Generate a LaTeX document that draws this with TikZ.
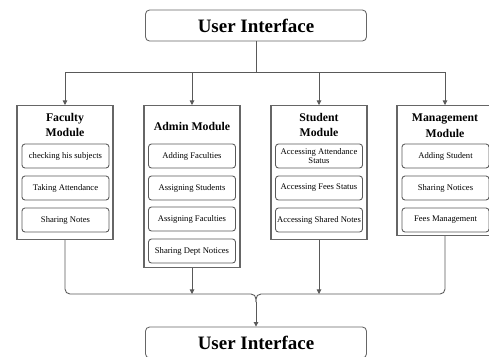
\documentclass[tikz,border=0pt]{standalone}
\usepackage{fontspec}
\setmainfont{Liberation Serif}
\usetikzlibrary{arrows.meta}

\begin{document}
\begin{tikzpicture}[x=0.02cm,y=-0.02cm,line width=0.5pt,
    ui/.style={draw=black!60,rounded corners=2.3pt,minimum width=4.42cm,minimum height=0.62cm,font=\fontsize{10.8}{12}\selectfont\bfseries},
    module/.style={draw=black!60,line width=0.6pt,anchor=north,minimum width=1.92cm},
    title/.style={align=center,font=\fontsize{6.7}{9}\selectfont\bfseries},
    item/.style={draw=black!65,rounded corners=1.7pt,minimum width=1.74cm,minimum height=0.48cm,align=center,inner xsep=0.5pt,inner ysep=1pt,font=\fontsize{4.9}{5.6}\selectfont},
    link/.style={draw=black!65},
    arr/.style={link,-{Triangle[length=2.6pt,width=2.6pt]}}]
    \useasboundingbox (0,0) rectangle (489,356);

    \node[ui] (ui) at (256,25.5) {User Interface};
    \node[ui] (ui2) at (256,342.5) {User Interface};

    \node[module,minimum height=2.68cm] (fac) at (65,105) {};
    \node[module,minimum height=3.24cm] (adm) at (192,105) {};
    \node[module,minimum height=2.68cm] (stu) at (319,105) {};
    \node[module,minimum height=2.60cm] (man) at (445,105) {};

    \node[title] (factitle) at (65,125) {Faculty\\Module};
    \node[title] (admtitle) at (192,126) {Admin Module};
    \node[title] (stutitle) at (319,125) {Student\\Module};
    \node[title] (mantitle) at (445,126) {Management\\Module};

    \node[item] (fac1) at (65.5,156) {checking his subjects};
    \node[item] (fac2) at (65.5,188) {Taking Attendance};
    \node[item] (fac3) at (65.5,220) {Sharing Notes};

    \node[item] (adm1) at (192,156) {Adding Faculties};
    \node[item] (adm2) at (192,188) {Assigning Students};
    \node[item] (adm3) at (192,219) {Assigning Faculties};
    \node[item] (adm4) at (192,251) {Sharing Dept Notices};

    \node[item] (stu1) at (319,156) {Accessing Attendance\\Status};
    \node[item] (stu2) at (319,188) {Accessing Fees Status};
    \node[item] (stu3) at (319,220) {Accessing Shared Notes};

    \node[item] (man1) at (445.5,156) {Adding Student};
    \node[item] (man2) at (445.5,188) {Sharing Notices};
    \node[item] (man3) at (445.5,220) {Fees Management};

    \coordinate (split) at (256,72);
    \coordinate (join) at (256,294);
    \coordinate (joinend) at (256,302);

    \draw[link] (ui.south) -- (split);
    \draw[link] (fac.north |- split) -- (man.north |- split);
    \foreach \m in {fac,adm,stu,man}
        \draw[arr] (\m.north |- split) -- (\m.north);

    \draw[link,rounded corners=2.8pt] (fac.south) |- (join) -- (joinend);
    \draw[link,rounded corners=2.8pt] (man.south) |- (join) -- (joinend);
    \draw[arr] (joinend) -- (ui2.north);
    \draw[arr] (adm.south) -- (adm.south |- join);
    \draw[arr] (stu.south) -- (stu.south |- join);
\end{tikzpicture}
\end{document}
